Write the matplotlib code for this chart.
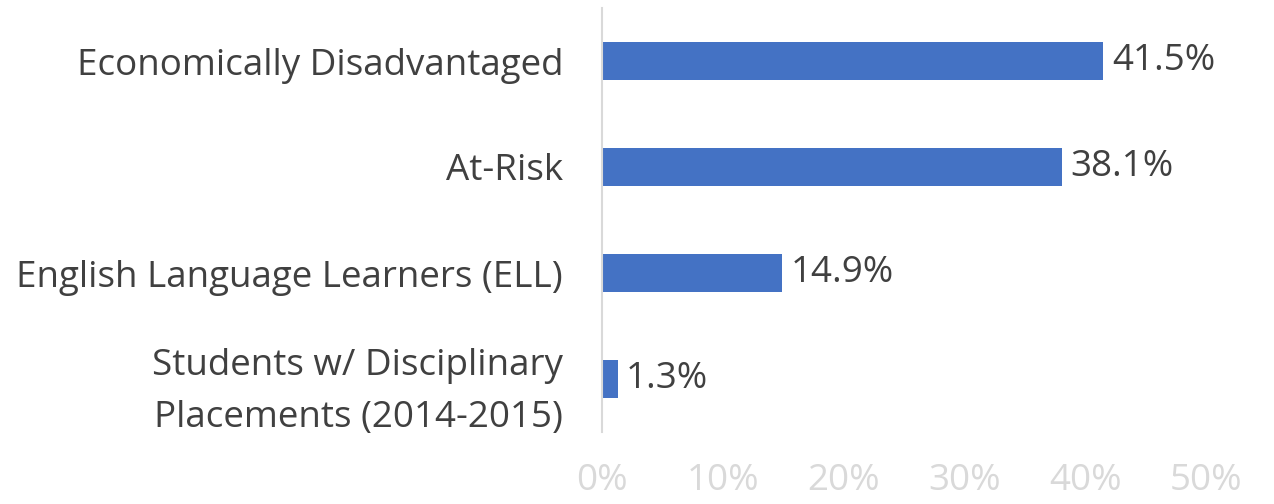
import numpy as np
import matplotlib
matplotlib.use("Agg")
from matplotlib import pyplot as plt

# data (top to bottom)
categories = ["Economically Disadvantaged", "At-Risk",
              "English Language Learners (ELL)",
              "Students w/ Disciplinary\nPlacements (2014-2015)"]
values = [41.5, 38.1, 14.9, 1.3]
xticks = [0, 10, 20, 30, 40, 50]

plt.rcParams['font.family'] = ['Open Sans', 'DejaVu Sans']
fs = 26.5

fig = plt.figure(figsize=(12.74, 5.04), dpi=100)
ax = fig.add_axes([602/1274, 1 - 432/504, 604/1274, 424/504])

y = np.arange(len(categories))
ax.barh(y, values, height=0.36, color='#4472c4')
for yi, v in zip(y, values):
    ax.text(v + 0.7, yi, f"{v}%", va='center', ha='left',
            fontsize=fs, color='#404040')

ax.set_ylim(len(categories) - 0.5, -0.5)
ax.set_xlim(0, 50)
ax.set_yticks(y)
ax.set_yticklabels(categories, fontsize=fs, color='#404040', linespacing=1.62)
ax.set_xticks(xticks)
ax.set_xticklabels([f"{t}%" for t in xticks], fontsize=fs, color='#d9d9d9')
ax.tick_params(axis='both', length=0)
ax.tick_params(axis='x', pad=22)
ax.tick_params(axis='y', pad=28)

for s in ['top', 'right', 'bottom']:
    ax.spines[s].set_visible(False)
ax.spines['left'].set_color('#d9d9d9')
ax.spines['left'].set_linewidth(1.5)

fig.savefig("out.png", dpi=100)
